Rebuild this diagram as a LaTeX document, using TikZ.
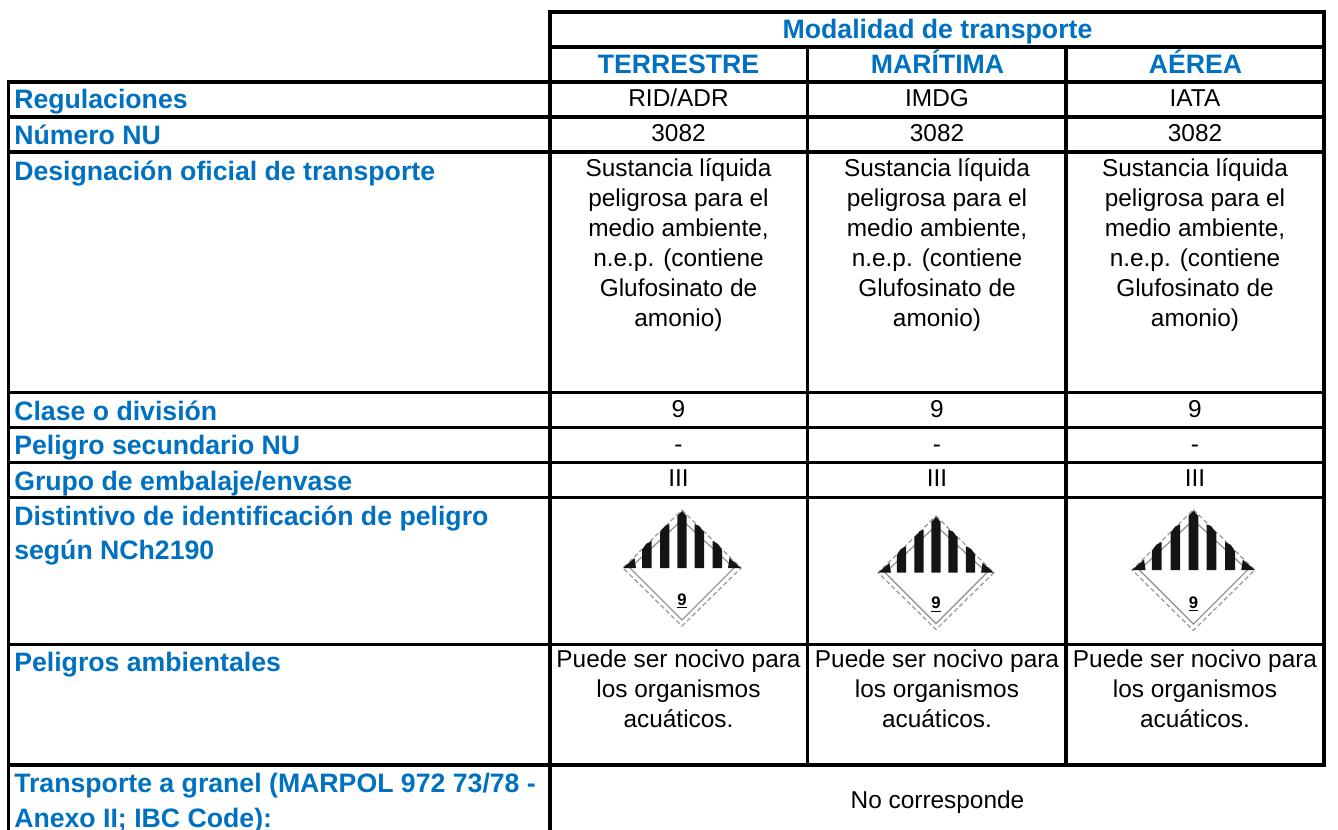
\documentclass[tikz,border=0pt]{standalone}
\usepackage{fontspec}
\setmainfont{Liberation Sans}
\definecolor{lblue}{HTML}{0070C0}
\definecolor{plgray}{HTML}{989898}
\tikzset{
  x=0.75pt,y=-0.75pt,
  rule/.style={line width=2.4pt,black,line cap=rect},
  lab/.style={anchor=base west,inner sep=0pt,text=lblue,font=\fontsize{20}{26}\selectfont\bfseries},
  lablong/.style={anchor=north west,inner sep=0pt,text=lblue,align=left,font=\fontsize{20}{25.9}\selectfont\bfseries},
  head/.style={anchor=base,inner sep=0pt,text=lblue,font=\fontsize{20}{26}\selectfont\bfseries},
  cell/.style={anchor=base,inner sep=0pt,font=\fontsize{18.3}{22.5}\selectfont},
  para/.style={anchor=north,inner sep=0pt,align=center,font=\fontsize{18.3}{22.5}\selectfont},
  plsolid/.style={draw=plgray,line width=1pt},
  pldash/.style={draw=plgray,line width=0.9pt,dash pattern=on 3.5pt off 2pt},
  plbar/.style={fill=black!92,draw=none},
  plnum/.style={anchor=base,inner sep=0pt,font=\fontsize{12.5}{13}\selectfont\bfseries},
}
\newcommand{\placard}[4]{%
  \begin{scope}[shift={(#1,#2)},x=#4*0.75pt,y=-#4*0.75pt]
    \draw[pldash] (0,-58) -- (59,0) -- (0,58) -- (-59,0) -- cycle;
    \draw[plsolid] (0,-48) -- (52,0) -- (0,52) -- (-52,0) -- cycle;
    \fill[plbar] (-59,0) -- (-47.5,-10) -- (-46,0) -- cycle;
    \fill[plbar] (59,0) -- (47.5,-10) -- (46,0) -- cycle;
    \fill[plbar] (-40,0) -- (-40,-18) -- (-36,-24) -- (-30.5,-27) -- (-30.5,0) -- cycle;
    \fill[plbar] (40,0) -- (40,-18) -- (36,-24) -- (30.5,-27) -- (30.5,0) -- cycle;
    \fill[plbar] (-22,0) -- (-22,-36) -- (-17,-42) -- (-12.7,-44) -- (-12.7,0) -- cycle;
    \fill[plbar] (22,0) -- (22,-36) -- (17,-42) -- (12.7,-44) -- (12.7,0) -- cycle;
    \fill[plbar] (-4.7,0) -- (-4.7,-52) -- (0,-57) -- (4.7,-52) -- (4.7,0) -- cycle;
    \node[plnum] (#3) at (0,37) {\underline{9}};
  \end{scope}}
\begin{document}
\begin{tikzpicture}
\useasboundingbox (0,0) rectangle (1338,830);
% grid
\coordinate (tl) at (550,12); \coordinate (tr) at (1324,12);
\coordinate (hl) at (550,47); \coordinate (hr) at (1324,47);
\coordinate (c2t) at (807.5,47); \coordinate (c3t) at (1066,47);
\coordinate (c2b) at (807.5,765); \coordinate (c3b) at (1066,765);
\coordinate (lt) at (8.5,82); \coordinate (lb) at (8.5,831);
\coordinate (mb) at (550,831);
\coordinate (rb) at (1324,765);
\draw[rule] (tl) -- (tr); \draw[rule] (hl) -- (hr);
\draw[rule] (lt) -- (lb); \draw[rule] (tl) -- (mb); \draw[rule] (tr) -- (rb);
\draw[rule] (c2t) -- (c2b); \draw[rule] (c3t) -- (c3b);
\foreach \yy in {82,117,152,392.5,427.5,462.5,497.5,644.5,765}
  \draw[rule] (8.5,\yy) -- (1324,\yy);
% header
\node[head] (hm) at (937.5,38.5) {Modalidad de transporte};
\node[head] (h1) at (678.5,74) {TERRESTRE};
\node[head] (h2) at (937.5,74) {MARÍTIMA};
\node[head] (h3) at (1195.5,74) {AÉREA};
% left labels
\node[lab] (l1) at (14,109) {Regulaciones};
\node[lab] (l2) at (14,145) {Número NU};
\node[lablong] (l3) at (14,160.2) {Designación oficial de transporte};
\node[lab] (l4) at (14,420) {Clase o división};
\node[lab] (l5) at (14,454.5) {Peligro secundario NU};
\node[lab] (l6) at (14,490) {Grupo de embalaje/envase};
\node[lablong] (l7) at (14,505.4) {Distintivo de identificación de peligro\\según NCh2190};
\node[lablong] (l8) at (14,652.3) {Peligros ambientales};
\node[lablong] (l9) at (14,773.2) {Transporte a granel (MARPOL 972 73/78 -\\Anexo II; IBC Code):};
% cells
\foreach \xx/\rr/\tt in {678.5/a/RID\slash ADR,937/b/IMDG,1195/c/IATA}
  \node[cell] (reg\rr) at (\xx,107) {\tt};
\foreach \xx/\rr in {678.5/a,937/b,1195/c}{
  \node[cell] (nu\rr) at (\xx,141.7) {3082};
  \node[para] (des\rr) at (\xx,158.5) {Sustancia líquida\\peligrosa para el\\medio ambiente,\\n.e.p. (contiene\\Glufosinato de\\amonio)};
  \node[cell] (cl\rr) at (\xx,417.5) {9};
  \node[cell] (sec\rr) at (\xx,452) {-};
  \node[cell] (gr\rr) at (\xx,486.7) {III};
  \node[para] (pa\rr) at (\xx,650) {Puede ser nocivo para\\los organismos\\acuáticos.};
}
\node[cell] (nc) at (937.5,808.3) {No corresponde};
% placards
\placard{682}{568}{p1}{1}
\placard{936}{572.7}{p2}{0.98}
\placard{1193.4}{570}{p3}{1.04}
\end{tikzpicture}
\end{document}
